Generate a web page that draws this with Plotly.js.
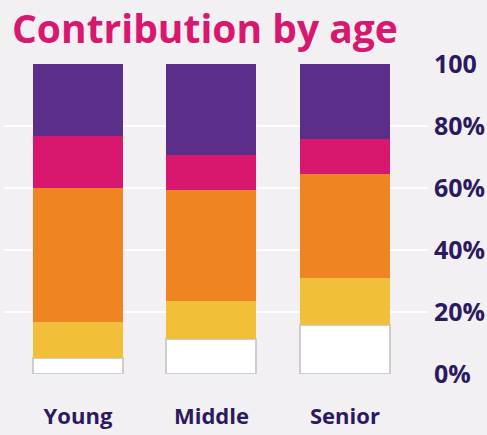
<!DOCTYPE html>
<html>
<head>
<meta charset="utf-8">
<script src="https://cdn.plot.ly/plotly-3.0.1.min.js"></script>
<style>html,body{margin:0;padding:0;background:#f2f0f3;}#chart{width:487px;height:435px;}</style>
</head>
<body>
<div id="chart"></div>
<script>
const categories = ["Young", "Middle", "Senior"];
const seriesNames = ["Base", "Segment 2", "Segment 3", "Segment 4", "Segment 5"];
const baseValues = [5.1, 11.4, 15.8];
const yellowValues = [11.7, 12.1, 15.2];
const orangeValues = [43.3, 35.9, 33.5];
const pinkValues = [16.7, 11.2, 11.3];
const purpleValues = [23.2, 29.4, 24.2];
const tickValues = [0, 20, 40, 60, 80, 100];
const tickLabels = ["0%", "20%", "40%", "60%", "80%", "100"];

const colors = ["#ffffff", "#f2bf3a", "#ee8522", "#d7186e", "#5a2e89"];
const series = [baseValues, yellowValues, orangeValues, pinkValues, purpleValues];

const traces = series.map((vals, i) => ({
  type: "bar",
  name: seriesNames[i],
  x: categories,
  y: vals,
  marker: {
    color: colors[i],
    line: { color: i === 0 ? "#cdcdd0" : "rgba(0,0,0,0)", width: i === 0 ? 2 : 0 }
  },
  cliponaxis: false,
  hoverinfo: "skip"
}));

const layout = {
  width: 487,
  height: 435,
  paper_bgcolor: "#f2f0f3",
  plot_bgcolor: "#f2f0f3",
  barmode: "stack",
  bargap: 0.326,
  showlegend: false,
  margin: { l: 4, r: 59, t: 64, b: 61 },
  font: { family: "Open Sans, sans-serif", color: "#2b1a5e" },
  title: {
    text: "Contribution by age",
    font: { family: "Open Sans, sans-serif", size: 39, color: "#d7186e", weight: 700 },
    xref: "container", yref: "container",
    x: 12 / 487, xanchor: "left",
    y: 1 - 29 / 435, yanchor: "middle"
  },
  xaxis: {
    type: "category",
    range: [-0.554, 2.622],
    showgrid: false,
    zeroline: false,
    showline: false,
    ticks: "",
    ticklabelstandoff: 27,
    tickfont: { family: "Open Sans, sans-serif", size: 22, color: "#2b1a5e", weight: 700 }
  },
  yaxis: {
    range: [0, 100],
    side: "right",
    tickvals: tickValues,
    ticktext: tickLabels,
    showgrid: true,
    gridcolor: "#ffffff",
    gridwidth: 2.5,
    zeroline: false,
    showline: false,
    ticks: "",
    ticklabelstandoff: 5,
    tickfont: { family: "Open Sans, sans-serif", size: 25, color: "#2b1a5e", weight: 700 }
  }
};

Plotly.newPlot("chart", traces, layout, { displayModeBar: false, staticPlot: true });
</script>
</body>
</html>
